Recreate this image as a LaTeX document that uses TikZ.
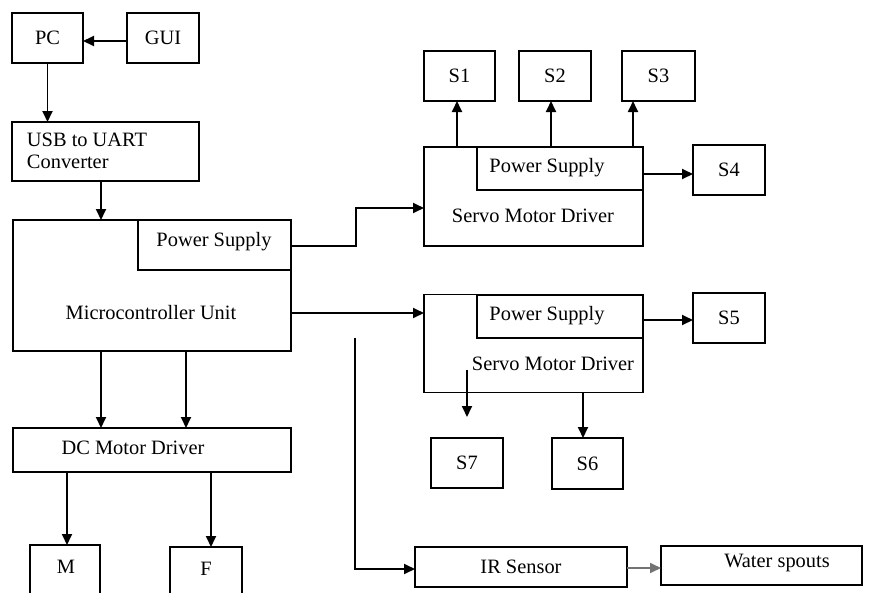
\documentclass[tikz,border=0pt]{standalone}
\usepackage{fontspec}
\setmainfont{Liberation Serif}
\usetikzlibrary{arrows.meta,positioning,calc}
\begin{document}
\begin{tikzpicture}[x=1pt,y=-1pt,
  font=\fontsize{20.4}{22}\selectfont,
  box/.style={draw,line width=1.8pt,inner sep=0pt,outer sep=0pt,rectangle},
  lbl/.style={inner sep=0pt,outer sep=0pt},
  arr/.style={line width=1.8pt,-{Triangle[length=11pt,width=10pt]}},
  ln/.style={line width=1.8pt}]
\useasboundingbox (0,0) rectangle (875,592);
% top left chain
\node[box,minimum width=71pt,minimum height=50pt] (pc) at (47.5,38) {PC};
\node[box,minimum width=72pt,minimum height=50pt] (gui) at (163,38) {GUI};
\node[box,minimum width=187pt,minimum height=59pt] (usb) at (105.5,151.5) {};
\node[lbl,anchor=west,align=left] (usbt) at (27,151) {USB to UART\\Converter};
\node[box,minimum width=278pt,minimum height=131pt] (mcu) at (152,285.5) {};
\node[box,minimum width=153pt,minimum height=50pt] (mps) at (214.5,245) {};
\node[lbl] (mpst) at (214,242) {Power Supply};
\node[lbl] (mcut) at (151,313) {Microcontroller Unit};
\node[box,minimum width=278pt,minimum height=44pt] (dc) at (152,450) {};
\node[lbl] (dct) at (133,448) {DC Motor Driver};
\node[box,minimum width=70pt,minimum height=70pt,anchor=north] (m) at (65,545) {};
\node[lbl] (mt) at (66,567) {M};
\node[box,minimum width=72pt,minimum height=70pt,anchor=north] (f) at (206,547) {};
\node[lbl] (ft) at (206,569) {F};
% servo 1
\node[box,minimum width=219pt,minimum height=99pt] (sv1) at (533.5,196.5) {};
\node[box,minimum width=166pt,minimum height=43pt] (ps1) at (560,168.5) {};
\node[lbl] (ps1t) at (547,168) {Power Supply};
\node[lbl] (sv1t) at (533,216) {Servo Motor Driver};
\node[box,minimum width=71pt,minimum height=50pt] (s1) at (459.5,76) {S1};
\node[box,minimum width=72pt,minimum height=50pt] (s2) at (555,76) {S2};
\node[box,minimum width=73pt,minimum height=50pt] (s3) at (658.5,76) {S3};
\node[box,minimum width=72pt,minimum height=50pt] (s4) at (729,170) {S4};
% servo 2
\node[box,minimum width=219pt,minimum height=98pt] (sv2) at (533.5,343.5) {};
\node[box,minimum width=166pt,minimum height=43pt] (ps2) at (560,316.5) {};
\node[lbl] (ps2t) at (547,316) {Power Supply};
\node[lbl] (sv2t) at (553,364) {Servo Motor Driver};
\node[box,minimum width=72pt,minimum height=50pt] (s5) at (729,318) {S5};
\node[box,minimum width=72pt,minimum height=50pt] (s7) at (467,463) {S7};
\node[box,minimum width=71pt,minimum height=51pt] (s6) at (587.5,463.5) {S6};
% bottom
\node[box,minimum width=212pt,minimum height=40pt] (ir) at (521,567) {IR Sensor};
\node[box,minimum width=201pt,minimum height=39pt] (ws) at (761.5,565.5) {};
\node[lbl] (wst) at (777,563) {Water spouts};
% connectors
\draw[arr] ([yshift=-3pt]gui.west) -- ([yshift=-3pt]pc.east);
\draw[arr] (pc.south) -- (pc.south |- usb.north);
\draw[arr] ([xshift=-4.5pt]usb.south) -- ([xshift=-4.5pt]usb.south |- mcu.north);
\draw[arr] (mcu.south -| 101,0) -- (dc.north -| 101,0);
\draw[arr] (mcu.south -| 186,0) -- (dc.north -| 186,0);
\draw[arr] (dc.south -| 67,0) -- (m.north -| 67,0);
\draw[arr] (dc.south -| 211,0) -- (f.north -| 211,0);
\draw[arr] (mps.east |- 0,246) -- (356,246) |- (sv1.west |- 0,208);
\draw[arr] (mcu.east |- 0,313) -- (sv2.west |- 0,313);
\draw[arr] (sv1.north -| 457,0) -- (s1.south -| 457,0);
\draw[arr] (sv1.north -| 551,0) -- (s2.south -| 551,0);
\draw[arr] (sv1.north -| 633,0) -- (s3.south -| 633,0);
\draw[arr] (ps1.east |- 0,174) -- (s4.west |- 0,174);
\draw[arr] (ps2.east |- 0,320) -- (s5.west |- 0,320);
\coordinate (s7a) at (467,370);
\coordinate (s7b) at (467,417);
\draw[arr] (s7a) -- (s7b);
\draw[arr] (sv2.south -| 583,0) -- (s6.north -| 583,0);
\coordinate (irs) at (355,338);
\draw[arr] (irs) -- (355,569) -- (ir.west |- 0,569);
\draw[arr,draw=black!55] (ir.east |- 0,568) -- (ws.west |- 0,568);
\end{tikzpicture}
\end{document}
